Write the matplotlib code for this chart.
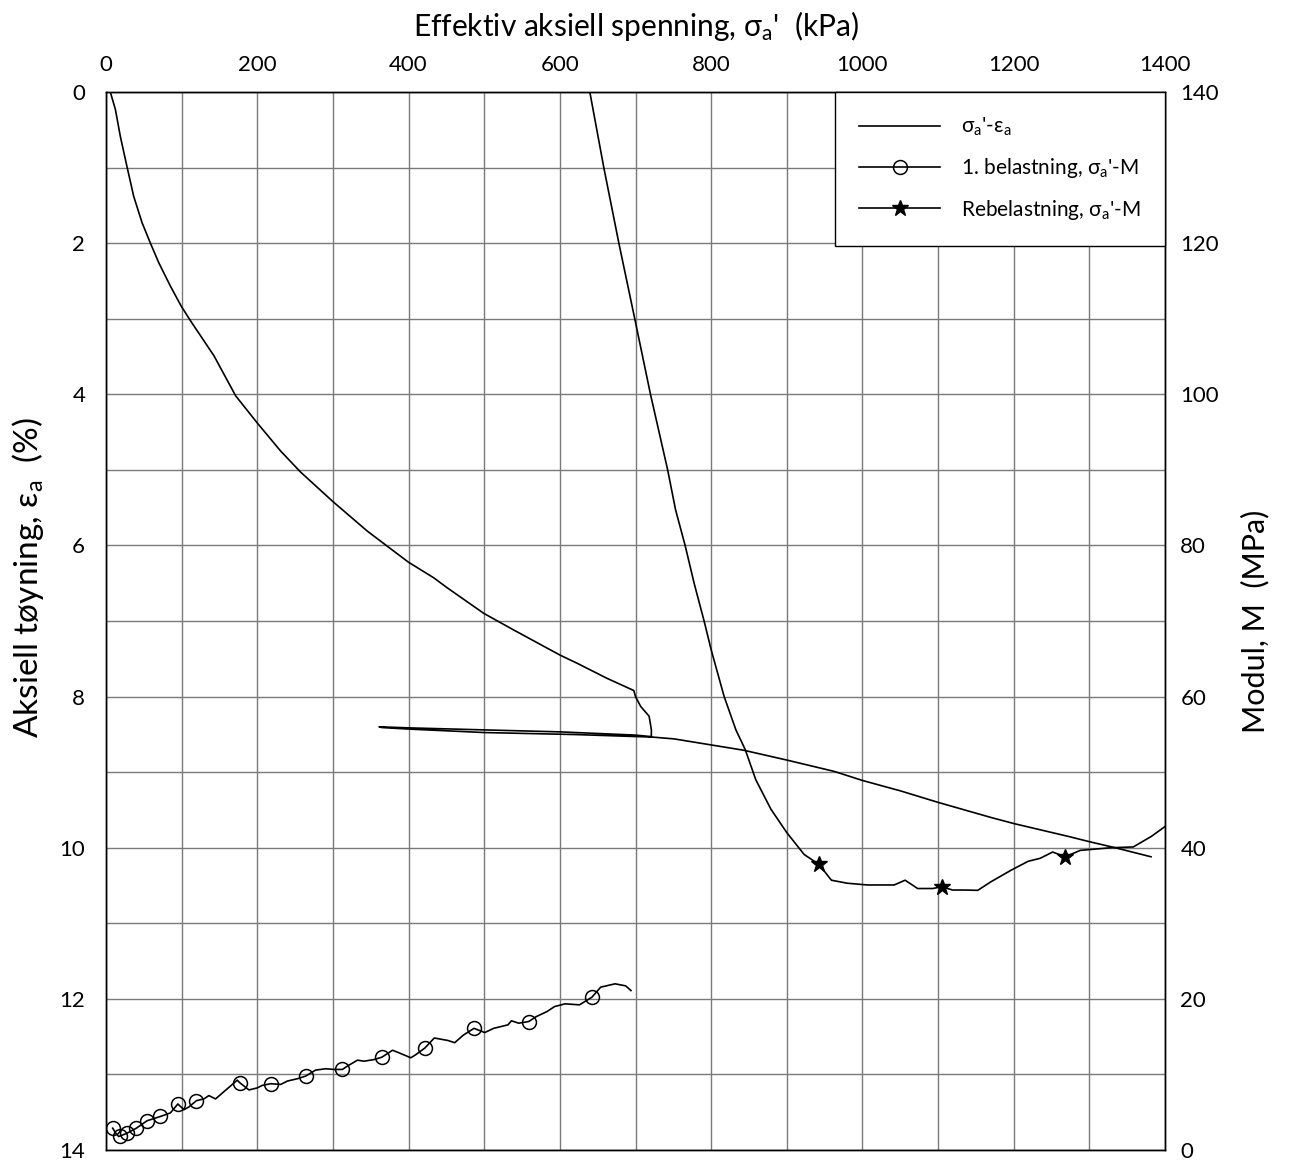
import matplotlib
matplotlib.use("Agg")
import matplotlib.pyplot as plt
from matplotlib.ticker import MultipleLocator

plt.rcParams['font.family'] = ['Lato', 'Noto Sans', 'DejaVu Sans']
plt.rcParams['mathtext.fontset'] = 'custom'
plt.rcParams['mathtext.rm'] = 'Lato'
plt.rcParams['mathtext.it'] = 'Lato:italic'
plt.rcParams['mathtext.bf'] = 'Lato:bold'

# ---- sigma'-epsilon curve (kPa, %) ----
se_sigma = [5.7, 12.4, 19, 27.8, 36.6, 47.7, 58.7, 69.8, 85.2, 99.8, 111.9, 142.7, 171.4,
            200, 230.8, 257.3, 300, 345.4, 371.8, 399.6, 433.5, 451, 499.6, 539.2, 600,
            623, 662.6, 697.8, 700, 706.8, 718, 721, 720.9,
            700, 600, 500, 400, 361,
            365, 400, 500, 622, 700, 721, 751, 800, 843, 900, 962.6, 1000, 1051, 1100,
            1170, 1200, 1272, 1300, 1334, 1381.5]
se_eps = [0, 0.23, 0.59, 0.99, 1.38, 1.73, 2.0, 2.26, 2.57, 2.84, 3.03, 3.49, 4.02,
          4.38, 4.75, 5.03, 5.42, 5.81, 6.01, 6.22, 6.43, 6.56, 6.90, 7.12, 7.45,
          7.56, 7.76, 7.92, 8.0, 8.13, 8.26, 8.44, 8.53,
          8.51, 8.467, 8.441, 8.414, 8.40,
          8.41, 8.43, 8.476, 8.503, 8.529, 8.535, 8.56, 8.64, 8.71, 8.84, 8.99, 9.11, 9.25, 9.40,
          9.6, 9.68, 9.85, 9.92, 10.0, 10.12]

# ---- 1. belastning, sigma'-M (kPa, MPa) ----
m1_sigma = [8.8, 12.4, 16.8, 19, 27.8, 40.2, 54.3, 72, 85, 95, 103, 109.5, 119.6, 129.4,
            136, 144.8, 173.5, 177, 189, 200, 206.6, 217.7, 231, 239.7, 253, 264, 277,
            290.5, 301.5, 312.6, 319, 332.5, 341, 354.5, 364.7, 378.8, 387.6, 403, 409.7,
            421.6, 434, 451.7, 461, 472.4, 486.5, 500.7, 512.5, 531.4, 536, 545.6, 558.8,
            569, 583, 593, 607, 626, 642.4, 654, 673, 687, 694]
m1_M = [2.89, 2.31, 1.78, 1.87, 2.22, 2.89, 3.87, 4.44, 4.9, 6.09, 5.33, 5.69, 6.53, 6.76,
        7.2, 6.76, 9.24, 8.89, 7.95, 8.22, 8.55, 8.77, 8.68, 9.12, 9.43, 9.78, 10.57,
        10.75, 10.66, 10.66, 11.1, 11.89, 11.75, 11.97, 12.28, 13.2, 12.85, 12.2, 12.63,
        13.5, 14.82, 14.5, 14.2, 15.2, 16.1, 15.54, 16.1, 16.56, 17.1, 16.78, 17.0,
        17.66, 18.32, 18.98, 19.34, 19.21, 20.22, 21.55, 21.99, 21.72, 21.1]
m1_mark_sigma = [8.8, 19, 27.8, 40.2, 54.3, 72, 95, 119.6, 177, 217.7, 264, 312.6,
                 364.7, 421.6, 486.5, 558.8, 642.4]
m1_mark_M = [2.89, 1.87, 2.22, 2.89, 3.87, 4.44, 6.09, 6.53, 8.89, 8.77, 9.78, 10.66,
             12.28, 13.5, 16.1, 17.0, 20.22]

# ---- Rebelastning, sigma'-M ----
m2_sigma = [639.6, 658.1, 678, 699, 719.8, 742.5, 753, 765.6, 777.5, 790.7, 800, 817.2,
            832.7, 845, 859, 879, 900, 923, 942.5, 959, 980, 1006.6, 1042, 1056.4, 1073,
            1093, 1105, 1119, 1135, 1152.5, 1170, 1197, 1219, 1235, 1251.5, 1268, 1288,
            1329, 1358, 1382, 1400]
m2_M = [140, 130, 120, 110, 100, 90, 84.7, 80, 75, 70, 66.2, 60, 55.6, 53, 49, 45.1, 42,
        39.1, 37.8, 35.7, 35.3, 35.07, 35.07, 35.7, 34.6, 34.6, 34.85, 34.4, 34.4, 34.36,
        35.5, 37.05, 38.2, 38.6, 39.43, 38.8, 39.65, 40, 40.1, 41.5, 42.8]
m2_mark_sigma = [942.5, 1105, 1268]
m2_mark_M = [37.8, 34.85, 38.8]

W, H = 1290, 1166
fig = plt.figure(figsize=(W / 100, H / 100), dpi=100)
ax = fig.add_axes([106 / W, (H - 1150) / H, (1165 - 106) / W, (1150 - 92) / H])
ax2 = ax.twinx()

grid_c = '#7a7a7a'
ax.set_xlim(0, 1400)
ax.set_ylim(14, 0)
ax2.set_ylim(0, 140)

ax.xaxis.tick_top()
ax.xaxis.set_label_position('top')
ax.xaxis.set_major_locator(MultipleLocator(200))
ax.xaxis.set_minor_locator(MultipleLocator(100))
ax.yaxis.set_major_locator(MultipleLocator(2))
ax.yaxis.set_minor_locator(MultipleLocator(1))
ax2.yaxis.set_major_locator(MultipleLocator(20))

ax.grid(True, which='both', color=grid_c, linewidth=1.0)
ax.set_axisbelow(True)

for a in (ax, ax2):
    a.tick_params(which='both', length=0, labelsize=16)
    for s in a.spines.values():
        s.set_color('black')
        s.set_linewidth(1.0)
ax.tick_params(axis='x', pad=12)
ax.tick_params(axis='y', pad=15)
ax2.tick_params(axis='y', pad=11)

lc = 'black'
l1, = ax.plot(se_sigma, se_eps, color=lc, lw=1.2, label="σ$_\\mathregular{a}$'-ε$_\\mathregular{a}$")
ax2.plot(m1_sigma, m1_M, color=lc, lw=1.2, clip_on=True)
ax2.plot(m1_mark_sigma, m1_mark_M, ls='none', marker='o', ms=10, mfc='none', mec=lc, mew=1.1)
ax2.plot(m2_sigma, m2_M, color=lc, lw=1.2)
ax2.plot(m2_mark_sigma, m2_mark_M, ls='none', marker='*', ms=12, mfc=lc, mec=lc)

h2, = ax2.plot([], [], color=lc, lw=1.2, marker='o', ms=10, mfc='none', mec=lc, mew=1.1,
               label="1. belastning, σ$_\\mathregular{a}$'-M")
h3, = ax2.plot([], [], color=lc, lw=1.2, marker='*', ms=12, mfc=lc, mec=lc,
               label="Rebelastning, σ$_\\mathregular{a}$'-M")

leg = ax2.legend(handles=[l1, h2, h3], loc='upper right', bbox_to_anchor=(1.0, 1.0),
                 fontsize=15, frameon=True, fancybox=False, edgecolor='black',
                 framealpha=1, handlelength=3.9, numpoints=1, labelspacing=0.85,
                 borderpad=1.15, handletextpad=1.0, borderaxespad=0)
leg.get_frame().set_linewidth(1.0)

ax.set_xlabel("Effektiv aksiell spenning, σ$_\\mathregular{a}$'  (kPa)", fontsize=21.5, labelpad=14)
ax.set_ylabel("Aksiell tøyning, ε$_\\mathregular{a}$  (%)", fontsize=24)
ax.yaxis.set_label_coords((46 - 106) / 1059, (1150 - 578) / 1058)
ax2.set_ylabel("Modul, M  (MPa)", fontsize=22, labelpad=16)

fig.savefig('out.png', dpi=100)
